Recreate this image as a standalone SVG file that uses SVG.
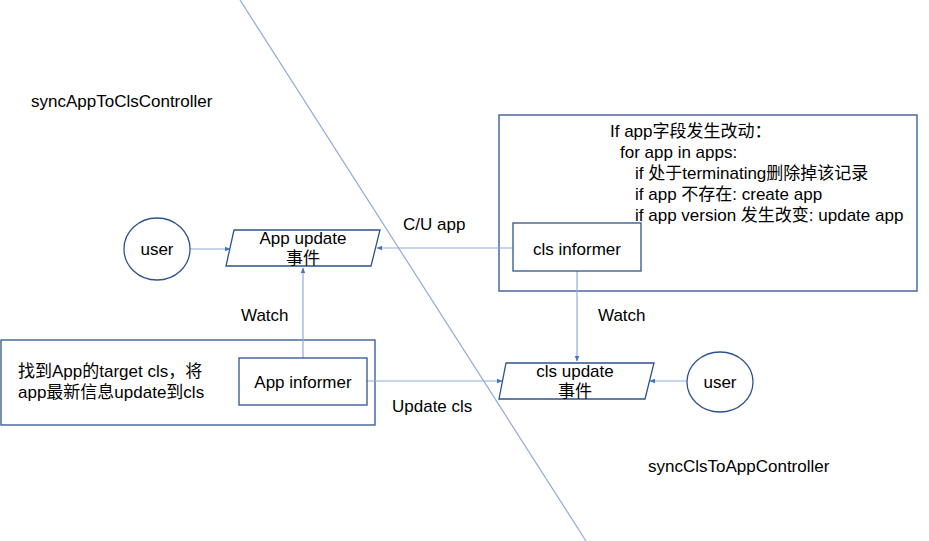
<svg xmlns="http://www.w3.org/2000/svg" width="929" height="541" viewBox="0 0 929 541">
  <defs>
    <marker id="arrow" viewBox="0 0 10 10" refX="9" refY="5" markerWidth="6" markerHeight="6" orient="auto-start-reverse" markerUnits="userSpaceOnUse">
      <path d="M0,1 L10,5 L0,9 z" fill="#4472C4"/>
    </marker>
    <style>
      text { font-family: "Liberation Sans", "Noto Sans CJK SC", sans-serif; font-size: 17px; fill: #000; }
      .shape { fill: #fff; stroke: #2F528F; stroke-width: 1.3; }
      .frame { fill: none; stroke: #2F528F; stroke-width: 1.3; }
      .conn { fill: none; stroke: #8FAADC; stroke-width: 1.2; }
      .mid { text-anchor: middle; }
    </style>
  </defs>
  <rect width="929" height="541" fill="#fff"/>

  <!-- divider between the two controllers -->
  <line x1="240" y1="0" x2="586" y2="541" stroke="#8FAADC" stroke-width="1.2"/>

  <text x="31" y="107">syncAppToClsController</text>
  <text x="648" y="472">syncClsToAppController</text>

  <!-- controller frames -->
  <g id="cls-frame">
    <rect class="frame" x="499" y="115" width="418" height="176"/>
    <text x="610" y="137">If app字段发生改动：</text>
    <text x="620" y="158">for app in apps:</text>
    <text x="635" y="179">if 处于terminating删除掉该记录</text>
    <text x="635" y="200">if app 不存在: create app</text>
    <text x="635" y="221">if app version 发生改变: update app</text>
  </g>
  <g id="app-frame">
    <rect class="frame" x="1" y="340" width="374" height="85"/>
    <text x="18" y="377">找到App的target cls，将</text>
    <text x="18" y="398">app最新信息update到cls</text>
  </g>

  <!-- connectors -->
  <g id="connectors">
    <line class="conn" x1="190" y1="249" x2="230" y2="249" marker-end="url(#arrow)"/>
    <line class="conn" x1="513" y1="248" x2="377" y2="248" marker-end="url(#arrow)"/>
    <line class="conn" x1="303" y1="358" x2="303" y2="268" marker-end="url(#arrow)"/>
    <line class="conn" x1="367" y1="381" x2="502" y2="381" marker-end="url(#arrow)"/>
    <line class="conn" x1="577" y1="271" x2="577" y2="361" marker-end="url(#arrow)"/>
    <line class="conn" x1="687" y1="381" x2="650" y2="381" marker-end="url(#arrow)"/>
    <text x="403" y="230">C/U app</text>
    <text x="241" y="321">Watch</text>
    <text x="598" y="321">Watch</text>
    <text x="392" y="412">Update cls</text>
  </g>

  <!-- nodes -->
  <g id="user-left">
    <ellipse class="shape" cx="157" cy="249" rx="33" ry="31"/>
    <text class="mid" x="157" y="255">user</text>
  </g>
  <g id="app-update-event">
    <polygon class="shape" points="234,230 380,230 371,266 226,266"/>
    <text class="mid" x="303" y="244">App update</text>
    <text class="mid" x="303" y="264">事件</text>
  </g>
  <g id="cls-informer">
    <rect class="shape" x="513" y="223" width="128" height="48"/>
    <text class="mid" x="577" y="255">cls informer</text>
  </g>
  <g id="app-informer">
    <rect class="shape" x="239" y="358" width="128" height="47"/>
    <text class="mid" x="303" y="388">App informer</text>
  </g>
  <g id="cls-update-event">
    <polygon class="shape" points="506,363 654,363 645,399 499,399"/>
    <text class="mid" x="575" y="377">cls update</text>
    <text class="mid" x="575" y="397">事件</text>
  </g>
  <g id="user-right">
    <ellipse class="shape" cx="720" cy="382" rx="33" ry="30"/>
    <text class="mid" x="720" y="388">user</text>
  </g>
</svg>
